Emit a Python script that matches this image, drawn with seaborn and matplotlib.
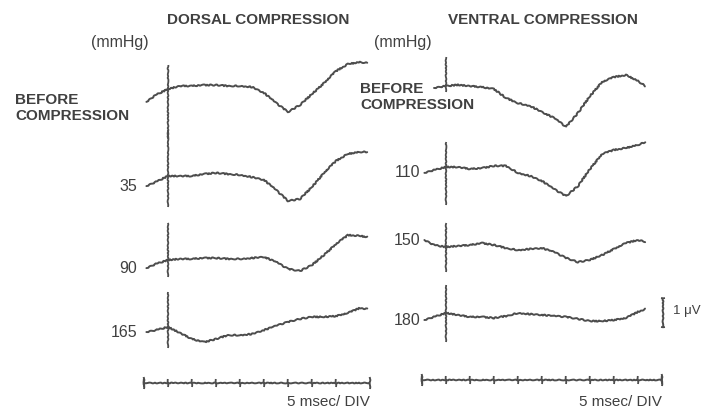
import numpy as np
import pandas as pd
import seaborn as sns
import matplotlib.pyplot as plt

# sweep time base (msec, 0 = stimulus)
t_ms = [-4.5, -2.5, 0, 2.5, 5, 7.5, 10, 12.5, 15, 17.5, 20, 22.5, 25, 27.5,
        30, 32.5, 35, 37.5, 40, 41.5]

# dorsal compression, uV relative to the stimulus point
dorsal_labels = ["BEFORE", "35", "90", "165"]
dorsal_before = [-0.46, -0.21, 0, 0.11, 0.11, 0.14, 0.14, 0.11, 0.11, 0.07,
                 -0.14, -0.5, -0.82, -0.57, -0.18, 0.21, 0.64, 0.89, 0.96, 0.93]
dorsal_35 = [-0.36, -0.21, 0, 0, 0, 0.07, 0.11, 0.07, 0.04, -0.04,
             -0.14, -0.5, -0.89, -0.82, -0.39, 0.11, 0.54, 0.79, 0.86, 0.86]
dorsal_90 = [-0.29, -0.14, 0, 0.04, 0.04, 0.07, 0.07, 0.04, 0.04, 0.07,
             0.11, -0.07, -0.32, -0.39, -0.18, 0.18, 0.57, 0.89, 0.86, 0.82]
dorsal_165 = [-0.18, -0.11, 0, -0.21, -0.43, -0.54, -0.43, -0.29, -0.29, -0.25,
              -0.11, 0.04, 0.18, 0.29, 0.36, 0.36, 0.39, 0.5, 0.68, 0.64]

# ventral compression
ventral_labels = ["BEFORE", "110", "150", "180"]
ventral_before = [np.nan, -0.07, 0, 0.04, 0, -0.04, -0.11, -0.43, -0.61, -0.71,
                  -0.93, -1.14, -1.46, -0.96, -0.36, 0.14, 0.32, 0.39, 0.18, 0]
ventral_110 = [-0.21, -0.11, 0, 0, -0.07, -0.04, 0.04, 0.04, -0.21, -0.32,
               -0.5, -0.79, -1.04, -0.68, -0.07, 0.46, 0.61, 0.68, 0.79, 0.89]
ventral_150 = [0.25, 0.07, 0, 0.04, 0.07, 0.14, 0.07, -0.04, -0.11, -0.07,
               -0.04, -0.18, -0.39, -0.54, -0.46, -0.29, -0.07, 0.14, 0.25, 0.18]
ventral_180 = [-0.25, -0.14, 0, -0.07, -0.14, -0.14, -0.18, -0.11, 0, -0.04,
               -0.07, -0.11, -0.14, -0.21, -0.29, -0.29, -0.25, -0.18, 0.04, 0.14]

# stimulus artefact extent (uV above / below the trace)
dorsal_stim_top = [0.86, 1.64, 1.32, 1.25]
dorsal_stim_bot = [-1.8, -1.1, -0.61, -0.75]
ventral_stim_top = [1.04, 0.89, 0.86, 1.0]
ventral_stim_bot = [-0.21, -1.36, -0.89, -1.04]

dorsal_ticks = [-5, 0, 5, 10, 15, 20, 25, 30, 35]
ventral_ticks = [-5, 0, 5, 10, 15, 20, 25, 30, 35, 40, 45]

# layout (page units: 28 px per uV, 4.8 px per msec)
px = 28.0
dorsal_rows = [-89 / px, -176 / px, -260 / px, -327 / px]
ventral_rows = [-86 / px, -167 / px, -247 / px, -313 / px]

sns.set_theme(style="white")
plt.rcParams['font.family'] = ['Liberation Sans', 'DejaVu Sans']
ink = "#4d4d4d"
txt = "#404040"

fig = plt.figure(figsize=(7.04, 4.11), dpi=100)
ax_d = fig.add_axes([120 / 704, 0, 264 / 704, 1])
ax_v = fig.add_axes([398 / 704, 0, 304.8 / 704, 1])


def panel(ax, traces, rows, labels, top, bot, lab_t, xmax):
    frames = []
    for name, vals, off in zip(labels, traces, rows):
        frames.append(pd.DataFrame({"t": t_ms, "uv": np.array(vals) + off, "trace": name}))
    df = pd.concat(frames, ignore_index=True)
    sns.lineplot(data=df, x="t", y="uv", units="trace", estimator=None,
                 color=ink, lw=1.4, ax=ax, sort=False)
    rows = np.array(rows)
    ax.vlines(np.zeros(len(rows)), rows + np.array(bot), rows + np.array(top),
              color=ink, lw=1.3)
    for name, vals, off in zip(labels, traces, rows):
        if name == "BEFORE":
            continue
        ax.text(lab_t, off + vals[0], name, ha="right", va="center",
                fontsize=11.5, color=txt)
    ax.set_xlim(-10, xmax)
    ax.set_ylim(-411 / px, 0)
    ax.axis("off")


panel(ax_d, [dorsal_before, dorsal_35, dorsal_90, dorsal_165], dorsal_rows,
      dorsal_labels, dorsal_stim_top, dorsal_stim_bot, -6.4, 45)
panel(ax_v, [ventral_before, ventral_110, ventral_150, ventral_180], ventral_rows,
      ventral_labels, ventral_stim_top, ventral_stim_bot, -5.4, 53.5)

# time scale bars
for ax, ticks, end, y in [(ax_d, dorsal_ticks, 42, -383 / px),
                          (ax_v, ventral_ticks, 45, -380 / px)]:
    ax.hlines(y, ticks[0], end, color=ink, lw=1.4)
    ax.vlines(ticks, y - 0.16, y + 0.16, color=ink, lw=1.3)
    ax.vlines([ticks[0], end], y - 0.22, y + 0.22, color=ink, lw=1.4)
    ax.text(end, -402 / px, "5 msec/ DIV", ha="right", va="center",
            fontsize=11, color=txt)

# 1 uV calibration
ax_v.vlines(45.2, -298 / px - 1.05, -298 / px, color=ink, lw=1.4)
ax_v.hlines([-298 / px, -298 / px - 1.05], 44.7, 45.7, color=ink, lw=1.3)
ax_v.text(47.3, -311 / px, "1 μV", ha="left", va="center", fontsize=9.5, color=txt)

for ax in (ax_d, ax_v):
    for ln in ax.lines:
        ln.set_sketch_params(0.6, 5, 3)
    for coll in ax.collections:
        coll.set_sketch_params(0.4, 6, 3)

fig.text(258 / 704, 1 - 20 / 411, "DORSAL COMPRESSION", ha="center", va="center",
         fontsize=11, fontweight="bold", color=txt)
fig.text(543 / 704, 1 - 20 / 411, "VENTRAL COMPRESSION", ha="center", va="center",
         fontsize=11, fontweight="bold", color=txt)
fig.text(91 / 704, 1 - 43 / 411, "(mmHg)", ha="left", va="center", fontsize=11.5, color=txt)
fig.text(374 / 704, 1 - 43 / 411, "(mmHg)", ha="left", va="center", fontsize=11.5, color=txt)
fig.text(15 / 704, 1 - 108 / 411, "BEFORE\nCOMPRESSION", ha="left", va="center",
         fontsize=11, fontweight="bold", color=txt, linespacing=1.15)
fig.text(360 / 704, 1 - 97 / 411, "BEFORE\nCOMPRESSION", ha="left", va="center",
         fontsize=11, fontweight="bold", color=txt, linespacing=1.15)

fig.savefig("out.png", dpi=100, facecolor="white")
